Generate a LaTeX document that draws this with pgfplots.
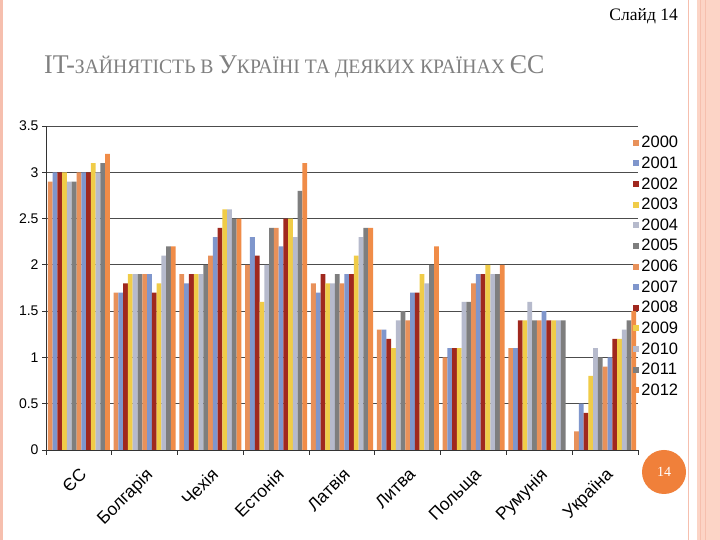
\documentclass[border=0pt]{standalone}
\usepackage{pgfplots}
\pgfplotsset{compat=1.18}
\usepackage{fontspec}
\setmainfont{Liberation Serif}
\newfontfamily\sans{Liberation Sans}
\definecolor{cOr}{HTML}{E8915A}
\definecolor{cBl}{HTML}{7F96CC}
\definecolor{cRd}{HTML}{A0281E}
\definecolor{cYe}{HTML}{F0CC48}
\definecolor{cLg}{HTML}{B6BACC}
\definecolor{cDg}{HTML}{7E7E7E}
\definecolor{cOr2}{HTML}{F08C48}
\definecolor{bordpink}{HTML}{F6BFAE}
\definecolor{bordfill}{HTML}{FCD4C6}
\definecolor{circ}{HTML}{F0803A}
\begin{document}
\begin{tikzpicture}[x=1pt,y=1pt]
\fill[white] (0,0) rectangle (720,540);
% borders
\fill[bordpink] (0,0) rectangle (3,540);
\fill[bordpink] (687.5,0) rectangle (689,540);
\fill[bordfill] (697,0) rectangle (720,540);
\fill[bordpink] (699.5,0) rectangle (701,540);
\fill[bordpink] (704.5,0) rectangle (706,540);
% texts
\node[anchor=base east, inner sep=0pt] at (678,519) {\fontsize{17.5}{17.5}\selectfont Слайд 14};
\node[anchor=base west, inner sep=0pt, text=black!50] at (44,466)
{\scalebox{0.96}[1]{\fontsize{27}{27}\selectfont IT-{\fontsize{20.5}{20}\selectfont ЗАЙНЯТІСТЬ В }У{\fontsize{20.5}{20}\selectfont КРАЇНІ ТА ДЕЯКИХ КРАЇНАХ }ЄС}};
\fill[circ] (664,68) circle (22);
\node[text=white] at (664,68) {\fontsize{14}{14}\selectfont 14};
\begin{axis}[
  at={(46pt,90pt)}, anchor=south west,
  width=592pt, height=324pt, scale only axis,
  ybar=0pt, bar width=4.77pt,
  xmin=-0.5, xmax=8.5, ymin=0, ymax=3.5,
  ytick={0,0.5,...,3.5},
  yticklabels={0,0.5,1,1.5,2,2.5,3,3.5},
  axis x line*=bottom, axis y line*=left,
  axis line style={black!80, line width=0.8pt},
  xtick={0,...,8},
  xticklabels={ЄС,Болгарія,Чехія,Естонія,Латвія,Литва,Польща,Румунія,Україна},
  minor xtick={-0.5,0.5,...,8.5},
  major x tick style={draw=none},
  minor x tick style={black!80, line width=0.8pt},
  minor tick length=5pt, major tick length=4pt,
  tick align=outside,
  y tick style={black!80, line width=0.8pt},
  ymajorgrids, grid style={black!70, line width=0.8pt},
  xticklabel style={rotate=45, anchor=north east, font=\sans\fontsize{17.5}{17.5}\selectfont, inner sep=1pt, xshift=-8pt, yshift=-8pt},
  yticklabel style={font=\sans\fontsize{14}{14}\selectfont, /pgf/number format/assume math mode=true},
  legend style={at={(rel axis cs:0.992,0.975)}, anchor=north west, draw=none, fill=none,
    font=\sans\fontsize{16.5}{16.5}\selectfont, row sep=3.6pt, inner sep=0pt,
    /tikz/every even column/.append style={column sep=0pt}},
  legend cell align=left,
  legend image code/.code={\fill[#1] (0pt,-3pt) rectangle (6pt,3pt);},
  every axis plot/.append style={draw=none},
]
\addplot[fill=cOr] coordinates {(0,2.9)(1,1.7)(2,1.9)(3,2.0)(4,1.8)(5,1.3)(6,1.0)(7,1.1)(8,0.2)};
\addplot[fill=cBl] coordinates {(0,3.0)(1,1.7)(2,1.8)(3,2.3)(4,1.7)(5,1.3)(6,1.1)(7,1.1)(8,0.5)};
\addplot[fill=cRd] coordinates {(0,3.0)(1,1.8)(2,1.9)(3,2.1)(4,1.9)(5,1.2)(6,1.1)(7,1.4)(8,0.4)};
\addplot[fill=cYe] coordinates {(0,3.0)(1,1.9)(2,1.9)(3,1.6)(4,1.8)(5,1.1)(6,1.1)(7,1.4)(8,0.8)};
\addplot[fill=cLg] coordinates {(0,2.9)(1,1.9)(2,1.9)(3,2.0)(4,1.8)(5,1.4)(6,1.6)(7,1.6)(8,1.1)};
\addplot[fill=cDg] coordinates {(0,2.9)(1,1.9)(2,2.0)(3,2.4)(4,1.9)(5,1.5)(6,1.6)(7,1.4)(8,1.0)};
\addplot[fill=cOr] coordinates {(0,3.0)(1,1.9)(2,2.1)(3,2.4)(4,1.8)(5,1.4)(6,1.8)(7,1.4)(8,0.9)};
\addplot[fill=cBl] coordinates {(0,3.0)(1,1.9)(2,2.3)(3,2.2)(4,1.9)(5,1.7)(6,1.9)(7,1.5)(8,1.0)};
\addplot[fill=cRd] coordinates {(0,3.0)(1,1.7)(2,2.4)(3,2.5)(4,1.9)(5,1.7)(6,1.9)(7,1.4)(8,1.2)};
\addplot[fill=cYe] coordinates {(0,3.1)(1,1.8)(2,2.6)(3,2.5)(4,2.1)(5,1.9)(6,2.0)(7,1.4)(8,1.2)};
\addplot[fill=cLg] coordinates {(0,3.0)(1,2.1)(2,2.6)(3,2.3)(4,2.3)(5,1.8)(6,1.9)(7,1.4)(8,1.3)};
\addplot[fill=cDg] coordinates {(0,3.1)(1,2.2)(2,2.5)(3,2.8)(4,2.4)(5,2.0)(6,1.9)(7,1.4)(8,1.4)};
\addplot[fill=cOr2] coordinates {(0,3.2)(1,2.2)(2,2.5)(3,3.1)(4,2.4)(5,2.2)(6,2.0)(8,1.5)};
\legend{2000,2001,2002,2003,2004,2005,2006,2007,2008,2009,2010,2011,2012}
\end{axis}
\pgfresetboundingbox
\useasboundingbox (0,0) rectangle (720,540);
\end{tikzpicture}
\end{document}
